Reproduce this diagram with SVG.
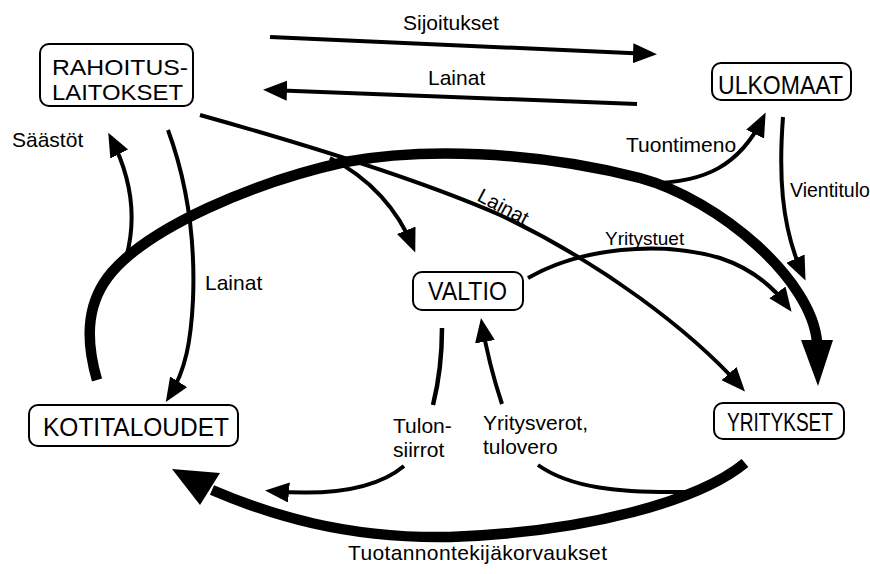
<svg xmlns="http://www.w3.org/2000/svg" width="870" height="574" viewBox="0 0 870 574">
<style>
.bg{fill:#fff}
.box{fill:#fff;stroke:#000;stroke-width:2}
.nt{font-family:"Liberation Sans",Arial,sans-serif;font-size:25px;fill:#000}
.nt2{font-family:"Liberation Sans",Arial,sans-serif;font-size:21.5px;fill:#000}
.lb{font-family:"Liberation Sans",Arial,sans-serif;font-size:21px;fill:#000}
.th{fill:none;stroke:#000;stroke-width:4;stroke-linecap:butt}
.tk{fill:none;stroke:#000;stroke-width:10.5;stroke-linecap:butt}
.ah{fill:#000}
</style>
<defs>
<marker id="arr" markerUnits="userSpaceOnUse" markerWidth="26" markerHeight="22" refX="18" refY="10" orient="auto">
<path d="M0,0 L24,10 L0,20 Z" fill="#000"/>
</marker>
</defs>
<rect class="bg" x="0" y="0" width="870" height="574"/>
<g id="connectors">
<path class="tk" d="M97,380 C84,335 88,300 112,272 C150,228 250,183 345,162 C420,148 530,150 640,178 C720,200 812,280 817,342"/>
<polygon class="ah" points="801,340 833,340 818,386"/>
<path class="tk" d="M745,463 C700,500 590,532 450,537 C345,539 268,514 212,490"/>
<polygon class="ah" points="172,469 200,505 220,473"/>
<path class="th" marker-end="url(#arr)" d="M270,37 L651,54"/>
<path class="th" marker-end="url(#arr)" d="M637,104 L269,90"/>
<path class="th" marker-end="url(#arr)" d="M126,258 C138,215 130,175 111,138"/>
<path class="th" marker-end="url(#arr)" d="M168,130 C190,190 195,250 193,300 C191,340 186,370 169,397"/>
<path class="th" marker-end="url(#arr)" d="M650,183 C705,183 740,165 763,118"/>
<path class="th" marker-end="url(#arr)" d="M783,117 C779,170 780,225 803,275"/>
<path class="th" marker-end="url(#arr)" d="M200,115 C300,143 420,180 500,215 C600,262 690,330 741,387"/>
<path class="th" marker-end="url(#arr)" d="M330,158 C370,178 398,210 413,247"/>
<path class="th" marker-end="url(#arr)" d="M528,278 C580,248 660,240 720,258 C750,268 772,285 788,307"/>
<path class="th" style="stroke-width:4.5" d="M442,328 C442,360 438,385 433,405"/>
<path class="th" marker-end="url(#arr)" d="M404,466 C380,486 340,497 271,491"/>
<path class="th" marker-end="url(#arr)" d="M502,404 C494,380 488,360 482,324"/>
<path class="th" d="M538,465 C570,488 620,493 685,492"/>
</g>
<g id="labels">
<text class="lb" x="403" y="30">Sijoitukset</text>
<text class="lb" x="428" y="85">Lainat</text>
<text class="lb" x="12" y="147">Säästöt</text>
<text class="lb" x="205" y="290">Lainat</text>
<text class="lb" x="626" y="152">Tuontimeno</text>
<text class="lb" x="790" y="197" style="font-size:19.5px">Vientitulo</text>
<text class="lb" x="605" y="245" style="font-size:19px">Yritystuet</text>
<text class="lb" x="476" y="200" style="font-size:20px" transform="rotate(28 476 200)">Lainat</text>
<text class="lb" x="393" y="433">Tulon-</text>
<text class="lb" x="393" y="457">siirrot</text>
<text class="lb" x="483" y="430">Yritysverot,</text>
<text class="lb" x="483" y="454">tulovero</text>
<text class="lb" x="348" y="560" textLength="259">Tuotannontekijäkorvaukset</text>
</g>
<g id="rahoituslaitokset">
<rect class="box" x="40" y="44" width="153" height="62" rx="9"/>
<text class="nt2" x="52" y="75" textLength="136" lengthAdjust="spacingAndGlyphs">RAHOITUS-</text>
<text class="nt2" x="52" y="100" textLength="131" lengthAdjust="spacingAndGlyphs">LAITOKSET</text>
</g>
<g id="ulkomaat">
<rect class="box" x="712" y="63" width="139" height="37" rx="9"/>
<text class="nt" x="718" y="94" textLength="125" lengthAdjust="spacingAndGlyphs">ULKOMAAT</text>
</g>
<g id="valtio">
<rect class="box" x="413" y="272" width="110" height="38" rx="9"/>
<text class="nt" x="428" y="300" textLength="79" lengthAdjust="spacingAndGlyphs">VALTIO</text>
</g>
<g id="kotitaloudet">
<rect class="box" x="29" y="405" width="209" height="41" rx="9"/>
<text class="nt" x="43" y="436" textLength="186" lengthAdjust="spacingAndGlyphs">KOTITALOUDET</text>
</g>
<g id="yritykset">
<rect class="box" x="714" y="403" width="130" height="36" rx="9"/>
<text class="nt" x="727" y="431" textLength="106" lengthAdjust="spacingAndGlyphs">YRITYKSET</text>
</g>
</svg>
